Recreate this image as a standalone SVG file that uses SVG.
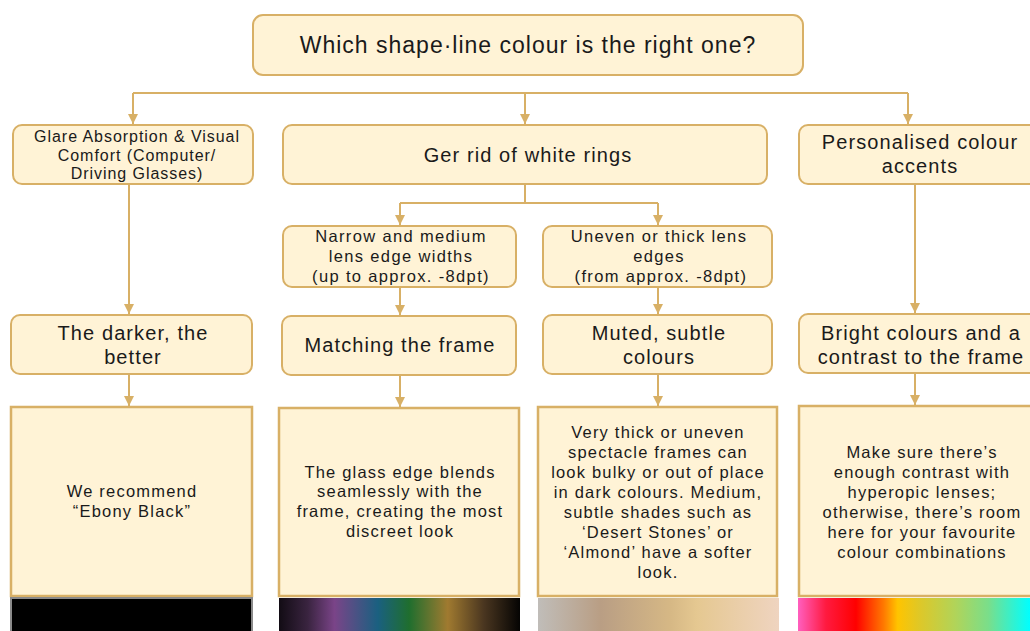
<svg xmlns="http://www.w3.org/2000/svg" width="1030" height="631" viewBox="0 0 1030 631">
<defs>
<style>
.nb{fill:#fff3d6;stroke:#d8b066;stroke-width:2}
.bb{fill:#fff3d6;stroke:#d8b066;stroke-width:2.5}
.cn{fill:none;stroke:#d8b066;stroke-width:2}
text{font-family:"Liberation Sans",Arial,sans-serif;fill:#1a1a1a;text-anchor:middle;dominant-baseline:central}
.t1{font-size:23px;letter-spacing:1px}
.t2{font-size:20px;letter-spacing:1.1px}
.tg{font-size:16px;letter-spacing:0.95px}
.t3{font-size:16.5px;letter-spacing:1.35px}
.t4{font-size:16.5px;letter-spacing:1.2px}
</style>
<marker id="ah" viewBox="0 0 10 10" refX="10" refY="5" markerWidth="5" markerHeight="5" orient="auto" markerUnits="strokeWidth">
<path d="M0,0 L10,5 L0,10 z" fill="#d8b066"/>
</marker>
<linearGradient id="g2" x1="0" y1="0" x2="1" y2="0">
<stop offset="0" stop-color="#120c14"/>
<stop offset="0.12" stop-color="#3a2440"/>
<stop offset="0.23" stop-color="#7a4488"/>
<stop offset="0.41" stop-color="#1a6080"/>
<stop offset="0.54" stop-color="#1f6e2e"/>
<stop offset="0.70" stop-color="#a07a30"/>
<stop offset="0.85" stop-color="#4a3620"/>
<stop offset="1" stop-color="#050403"/>
</linearGradient>
<linearGradient id="g3" x1="0" y1="0" x2="1" y2="0">
<stop offset="0" stop-color="#c0bdb9"/>
<stop offset="0.26" stop-color="#b99e84"/>
<stop offset="0.55" stop-color="#d6b885"/>
<stop offset="0.66" stop-color="#e5c891"/>
<stop offset="1" stop-color="#efd4c0"/>
</linearGradient>
<linearGradient id="g4" x1="0" y1="0" x2="1" y2="0">
<stop offset="0" stop-color="#ff5fbf"/>
<stop offset="0.12" stop-color="#ff1a40"/>
<stop offset="0.25" stop-color="#ff0000"/>
<stop offset="0.37" stop-color="#ff7a00"/>
<stop offset="0.43" stop-color="#ffc400"/>
<stop offset="0.53" stop-color="#dcc82a"/>
<stop offset="0.68" stop-color="#b0d45a"/>
<stop offset="0.82" stop-color="#7ade8a"/>
<stop offset="1" stop-color="#00ffff"/>
</linearGradient>
</defs>
<rect width="1030" height="631" fill="#ffffff"/>

<g id="connectors">
<path class="cn" d="M133,93 H908"/>
<path class="cn" d="M133,93 V124" marker-end="url(#ah)"/>
<path class="cn" d="M525,93 V124" marker-end="url(#ah)"/>
<path class="cn" d="M908,93 V124" marker-end="url(#ah)"/>
<path class="cn" d="M129,185 V314" marker-end="url(#ah)"/>
<path class="cn" d="M129,375 V406" marker-end="url(#ah)"/>
<path class="cn" d="M525,185 V203 M400,203 H658"/>
<path class="cn" d="M400,203 V225" marker-end="url(#ah)"/>
<path class="cn" d="M658,203 V225" marker-end="url(#ah)"/>
<path class="cn" d="M400,288 V315" marker-end="url(#ah)"/>
<path class="cn" d="M658,288 V314" marker-end="url(#ah)"/>
<path class="cn" d="M400,376 V407" marker-end="url(#ah)"/>
<path class="cn" d="M658,375 V406" marker-end="url(#ah)"/>
<path class="cn" d="M915,185 V313" marker-end="url(#ah)"/>
<path class="cn" d="M915,374 V405" marker-end="url(#ah)"/>
</g>

<g id="title">
<rect class="nb" x="253" y="15" width="550" height="60" rx="10"/>
<text class="t1" x="528" y="45">Which shape·line colour is the right one?</text>
</g>

<g id="glare">
<rect class="nb" x="13" y="125" width="240" height="59" rx="9"/>
<text class="tg" x="137" y="136">Glare Absorption &amp; Visual</text>
<text class="tg" x="137" y="155">Comfort (Computer/</text>
<text class="tg" x="137" y="173">Driving Glasses)</text>
</g>

<g id="whiterings">
<rect class="nb" x="283" y="125" width="484" height="59" rx="9"/>
<text class="t2" x="528" y="155">Ger rid of white rings</text>
</g>

<g id="accents">
<rect class="nb" x="799" y="125" width="241" height="59" rx="9"/>
<text class="t2" x="920" y="142">Personalised colour</text>
<text class="t2" x="920" y="166">accents</text>
</g>

<g id="narrow">
<rect class="nb" x="283" y="226" width="233" height="61" rx="9"/>
<text class="t3" x="401" y="236">Narrow and medium</text>
<text class="t3" x="401" y="256">lens edge widths</text>
<text class="t3" x="401" y="276">(up to approx. -8dpt)</text>
</g>

<g id="uneven">
<rect class="nb" x="543" y="226" width="229" height="61" rx="9"/>
<text class="t3" x="659" y="236">Uneven or thick lens</text>
<text class="t3" x="659" y="256">edges</text>
<text class="t3" x="661" y="276">(from approx. -8dpt)</text>
</g>

<g id="darker">
<rect class="nb" x="11" y="315" width="241" height="59" rx="9"/>
<text class="t2" x="133" y="333">The darker, the</text>
<text class="t2" x="133" y="357">better</text>
</g>

<g id="matching">
<rect class="nb" x="282" y="316" width="234" height="59" rx="9"/>
<text class="t2" x="400" y="345">Matching the frame</text>
</g>

<g id="muted">
<rect class="nb" x="543" y="315" width="229" height="59" rx="9"/>
<text class="t2" x="659" y="333">Muted, subtle</text>
<text class="t2" x="659" y="357">colours</text>
</g>

<g id="bright">
<rect class="nb" x="799" y="314" width="241" height="59" rx="9"/>
<text class="t2" x="921" y="333">Bright colours and a</text>
<text class="t2" x="921" y="357">contrast to the frame</text>
</g>

<g id="recommend">
<rect class="bb" x="11" y="407" width="241" height="189"/>
<text class="t4" x="132" y="491">We recommend</text>
<text class="t4" x="132" y="511">“Ebony Black”</text>
<rect x="11" y="598" width="241" height="36" fill="#000" stroke="#8a8a8a" stroke-width="2"/>
</g>

<g id="blends">
<rect class="bb" x="279" y="408" width="240" height="188"/>
<text class="t4" x="400" y="472">The glass edge blends</text>
<text class="t4" x="400" y="491">seamlessly with the</text>
<text class="t4" x="400" y="511">frame, creating the most</text>
<text class="t4" x="400" y="531">discreet look</text>
<rect x="279" y="598" width="241" height="33" fill="url(#g2)"/>
</g>

<g id="thick">
<rect class="bb" x="538" y="407" width="239" height="189"/>
<text class="t4" x="658" y="432">Very thick or uneven</text>
<text class="t4" x="658" y="452">spectacle frames can</text>
<text class="t4" x="658" y="472">look bulky or out of place</text>
<text class="t4" x="658" y="492">in dark colours. Medium,</text>
<text class="t4" x="658" y="512">subtle shades such as</text>
<text class="t4" x="658" y="532">‘Desert Stones’ or</text>
<text class="t4" x="658" y="552">‘Almond’ have a softer</text>
<text class="t4" x="658" y="572">look.</text>
<rect x="538" y="598" width="241" height="33" fill="url(#g3)"/>
</g>

<g id="contrast">
<rect class="bb" x="799" y="406" width="241" height="190"/>
<text class="t4" x="922" y="452">Make sure there’s</text>
<text class="t4" x="922" y="472">enough contrast with</text>
<text class="t4" x="922" y="492">hyperopic lenses;</text>
<text class="t4" x="922" y="512">otherwise, there’s room</text>
<text class="t4" x="922" y="532">here for your favourite</text>
<text class="t4" x="922" y="552">colour combinations</text>
<rect x="798" y="598" width="232" height="33" fill="url(#g4)"/>
</g>
</svg>
